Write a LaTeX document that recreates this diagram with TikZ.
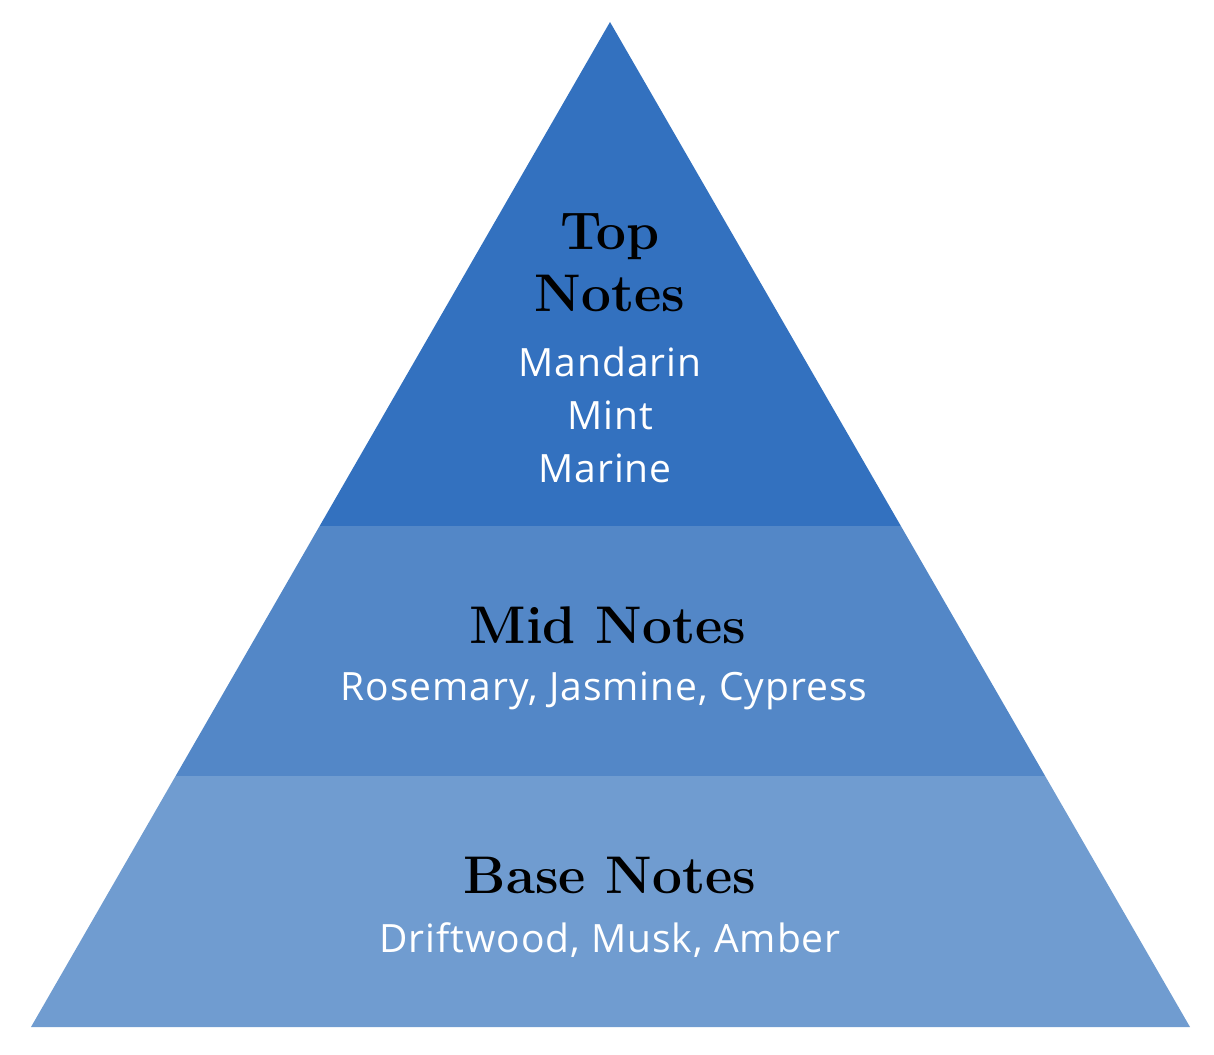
\documentclass[tikz,border=0pt]{standalone}
\usepackage{fontspec}
\setsansfont[LetterSpace=2.5]{Open Sans}
\usepackage{xcolor}
\definecolor{topblue}{HTML}{3371BF}
\definecolor{midblue}{HTML}{5387C7}
\definecolor{baseblue}{HTML}{709CD0}

\begin{document}
\begin{tikzpicture}[x=0.5pt, y=-0.5pt,
  heading/.style={font=\fontsize{26.5}{28}\selectfont\bfseries, text=black, inner sep=0pt},
  notes/.style={font=\sffamily\fontsize{19.5}{20}\selectfont, text=white, inner sep=0pt}]
% Canvas
\useasboundingbox (0,0) rectangle (1214,1054);
% Pyramid corners
\coordinate (apex) at (610,22);
\coordinate (bl) at (31,1027);
\coordinate (br) at (1190,1027);
% Bands
\begin{scope}
\clip (apex) -- (br) -- (bl) -- cycle;
\fill[topblue] (0,0) rectangle (1214,526);
\fill[midblue] (0,526) rectangle (1214,776);
\fill[baseblue] (0,776) rectangle (1214,1054);
\end{scope}
% Top
\node[heading] (topA) at (610,237) {Top};
\node[heading] (topB) at (610,293) {Notes};
\node[notes] (top1) at (610,362) {Mandarin};
\node[notes] (top2) at (610,415) {Mint};
\node[notes] (top3) at (605,468) {Marine};
% Mid
\node[heading] (mid) at (608,625) {Mid Notes};
\node[notes] (midlist) at (604,691) {Rosemary, Jasmine, Cypress};
% Base
\node[heading] (base) at (610,875) {Base Notes};
\node[notes] (baselist) at (610,940) {Driftwood, Musk, Amber};
\end{tikzpicture}
\end{document}
